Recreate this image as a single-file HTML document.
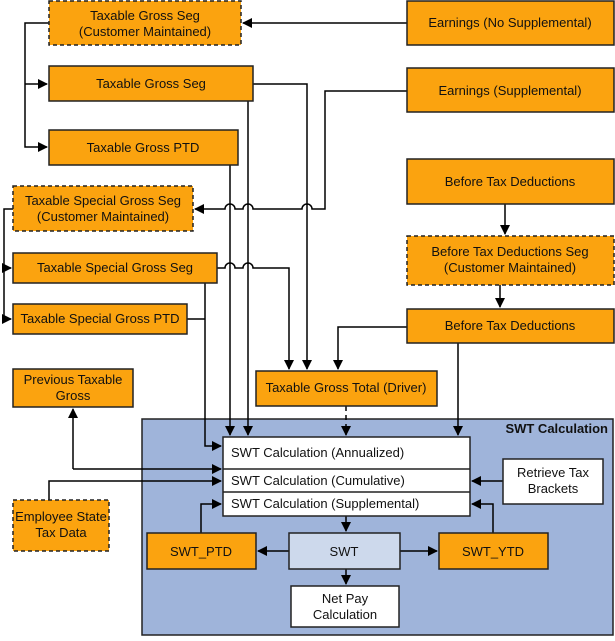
<!DOCTYPE html>
<html><head><meta charset="utf-8"><style>
body{margin:0;background:#fff}
text{font-family:"Liberation Sans",Arial,sans-serif;font-size:13px;fill:#111}
</style></head><body>
<svg width="615" height="636" viewBox="0 0 615 636" xmlns="http://www.w3.org/2000/svg">
<defs><marker id="a" markerWidth="10" markerHeight="10" refX="9" refY="5" orient="auto" markerUnits="userSpaceOnUse"><path d="M0,0 L10,5 L0,10z" fill="#000"/></marker></defs>
<rect x="142" y="419" width="471" height="216" fill="#9fb4da" stroke="#222" stroke-width="1.5"/>
<text x="608" y="433" text-anchor="end" style="font-weight:bold">SWT Calculation</text>
<g fill="none" stroke="#000" stroke-width="1.5">
<path d="M407,23 H243" marker-end="url(#a)"/>
<path d="M49,23 H25 V147 H47" marker-end="url(#a)"/>
<path d="M25,84 H47" marker-end="url(#a)"/>
<path d="M253,84 H307 V369" marker-end="url(#a)"/>
<path d="M407,91 H325 V209 H312 a5,5 0 0 0 -10,0 H253 a5,5 0 0 0 -10,0 H235 a5,5 0 0 0 -10,0 H195" marker-end="url(#a)"/>
<path d="M13,209 H4 V319 H11" marker-end="url(#a)"/>
<path d="M4,268 H11" marker-end="url(#a)"/>
<path d="M217,268 H225 a5,5 0 0 1 10,0 H243 a5,5 0 0 1 10,0 H289 V369" marker-end="url(#a)"/>
<path d="M187,319 H205"/>
<path d="M205,283 V446 H221" marker-end="url(#a)"/>
<path d="M230,165 V435" marker-end="url(#a)"/>
<path d="M248,101 V435" marker-end="url(#a)"/>
<path d="M407,327 H338 V369" marker-end="url(#a)"/>
<path d="M458,343 V435" marker-end="url(#a)"/>
<path d="M505,204 V234" marker-end="url(#a)"/>
<path d="M500,285 V307" marker-end="url(#a)"/>
<path d="M346,406 V435" stroke-dasharray="5,4" marker-end="url(#a)"/>
<path d="M73,469 V409" marker-end="url(#a)"/>
<path d="M73,469 H221" marker-end="url(#a)"/>
<path d="M49,500 V481 H221" marker-end="url(#a)"/>
<path d="M503,481 H472" marker-end="url(#a)"/>
<path d="M201,533 V504 H221" marker-end="url(#a)"/>
<path d="M493,533 V504 H472" marker-end="url(#a)"/>
<path d="M346,516 V531" marker-end="url(#a)"/>
<path d="M289,551 H258" marker-end="url(#a)"/>
<path d="M400,551 H437" marker-end="url(#a)"/>
<path d="M346,569 V584" marker-end="url(#a)"/>
</g>
<g stroke="#222" stroke-width="1.5" fill="#fba30f">
<rect x="49" y="1" width="192" height="44" stroke-dasharray="4,3"/>
<rect x="407" y="1" width="207" height="44"/>
<rect x="49" y="66" width="204" height="35"/>
<rect x="407" y="68" width="207" height="44"/>
<rect x="49" y="130" width="189" height="35"/>
<rect x="407" y="159" width="207" height="45"/>
<rect x="13" y="186" width="180" height="45" stroke-dasharray="4,3"/>
<rect x="407" y="236" width="207" height="49" stroke-dasharray="4,3"/>
<rect x="13" y="253" width="204" height="30"/>
<rect x="13" y="304" width="174" height="30"/>
<rect x="407" y="309" width="207" height="34"/>
<rect x="13" y="369" width="120" height="38"/>
<rect x="256" y="371" width="181" height="35"/>
<rect x="13" y="500" width="96" height="51" stroke-dasharray="4,3"/>
<rect x="147" y="533" width="109" height="36"/>
<rect x="439" y="533" width="109" height="36"/>
</g>
<g stroke="#222" stroke-width="1.5" fill="#fff">
<rect x="223" y="437" width="247" height="79"/>
<path d="M223,469 H470 M223,492 H470" fill="none"/>
<rect x="503" y="459" width="100" height="45"/>
<rect x="289" y="533" width="111" height="36" fill="#cdd9ec"/>
<rect x="291" y="586" width="108" height="41"/>
</g>
<g text-anchor="middle">
<text x="145" y="20">Taxable Gross Seg</text><text x="145" y="36">(Customer Maintained)</text>
<text x="510" y="27">Earnings (No Supplemental)</text>
<text x="151" y="88">Taxable Gross Seg</text>
<text x="510" y="95">Earnings (Supplemental)</text>
<text x="143" y="152">Taxable Gross PTD</text>
<text x="510" y="186">Before Tax Deductions</text>
<text x="103" y="205">Taxable Special Gross Seg</text><text x="103" y="221">(Customer Maintained)</text>
<text x="510" y="256">Before Tax Deductions Seg</text><text x="510" y="272">(Customer Maintained)</text>
<text x="115" y="272">Taxable Special Gross Seg</text>
<text x="100" y="323">Taxable Special Gross PTD</text>
<text x="510" y="330">Before Tax Deductions</text>
<text x="73" y="384">Previous Taxable</text><text x="73" y="400">Gross</text>
<text x="346" y="392">Taxable Gross Total (Driver)</text>
<text x="61" y="521">Employee State</text><text x="61" y="537">Tax Data</text>
<text x="553" y="477">Retrieve Tax</text><text x="553" y="493">Brackets</text>
<text x="201" y="556">SWT_PTD</text>
<text x="344" y="556">SWT</text>
<text x="493" y="556">SWT_YTD</text>
<text x="345" y="603">Net Pay</text><text x="345" y="619">Calculation</text>
</g>
<text x="231" y="457">SWT Calculation (Annualized)</text>
<text x="231" y="485">SWT Calculation (Cumulative)</text>
<text x="231" y="508">SWT Calculation (Supplemental)</text>
</svg>
</body></html>
